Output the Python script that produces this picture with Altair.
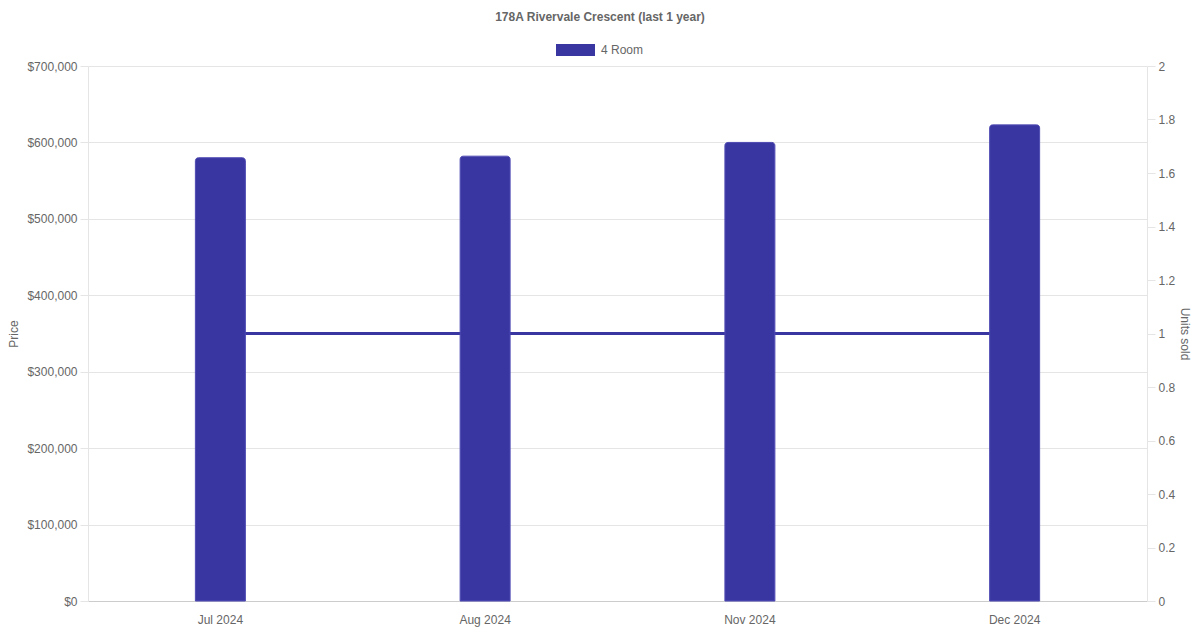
import altair as alt
import pandas as pd

months = ["Jul 2024", "Aug 2024", "Nov 2024", "Dec 2024"]
prices = [580000, 582000, 600000, 623000]
units = [1, 1, 1, 1]
series_name = ["4 Room"]
title_text = ["178A Rivervale Crescent (last 1 year)"]

COLOR = "#3a36a1"
GREY = "#666666"
GRID = "#e5e5e5"
FONT = "Liberation Sans"

df = pd.DataFrame({"month": months, "price": prices, "units": units})

xenc = alt.X(
    "month:N",
    sort=months,
    scale=alt.Scale(paddingInner=0, paddingOuter=0),
    axis=alt.Axis(
        title=None, labelAngle=0, tickSize=0, labelPadding=13,
        domainColor="#cccccc", grid=False, labelColor=GREY, labelFontSize=12,
        labelFont=FONT,
    ),
)

line = alt.Chart(df).mark_line(color=COLOR, strokeWidth=3).encode(
    x=xenc,
    y=alt.Y(
        "units:Q",
        scale=alt.Scale(domain=[0, 2], nice=False),
        axis=alt.Axis(
            orient="right", title="Units sold", values=[0, 0.2, 0.4, 0.6, 0.8, 1, 1.2, 1.4, 1.6, 1.8, 2],
            format="~g", grid=False, tickSize=8, tickColor=GRID, domainColor=GRID,
            labelPadding=3, labelColor=GREY, labelFontSize=12, labelFont=FONT,
            titleColor=GREY, titleFontSize=12, titleFont=FONT, titleFontWeight="normal",
            titlePadding=3,
        ),
    ),
)

bars = alt.Chart(df).mark_bar(
    color=COLOR, size=50, cornerRadiusTopLeft=3, cornerRadiusTopRight=3,
    stroke="#4a46b0", strokeWidth=1,
).encode(
    x=xenc,
    y=alt.Y(
        "price:Q",
        scale=alt.Scale(domain=[0, 700000], nice=False),
        axis=alt.Axis(
            orient="left", title="Price", values=[0, 100000, 200000, 300000, 400000, 500000, 600000, 700000],
            format="$,.0f", grid=True, gridColor=GRID, tickSize=8, tickColor=GRID, domainColor=GRID,
            labelPadding=3, labelColor=GREY, labelFontSize=12, labelFont=FONT,
            titleColor=GREY, titleFontSize=12, titleFont=FONT, titleFontWeight="normal",
            titlePadding=6,
        ),
    ),
)

title = alt.Chart(pd.DataFrame({"t": title_text})).mark_text(
    font=FONT, fontSize=12, fontWeight="bold", color=GREY, align="center", baseline="middle",
).encode(text="t:N", x=alt.value(512), y=alt.value(-49))

legend_rect = alt.Chart(pd.DataFrame({"s": series_name})).mark_rect(color=COLOR).encode(
    x=alt.value(468), x2=alt.value(507), y=alt.value(-22), y2=alt.value(-10)
)
legend_text = alt.Chart(pd.DataFrame({"s": series_name})).mark_text(
    font=FONT, fontSize=12, color=GREY, align="left", baseline="middle",
).encode(text="s:N", x=alt.value(513), y=alt.value(-16))

chart = alt.layer(line, bars, title, legend_rect, legend_text).resolve_scale(
    y="independent"
).properties(
    width=1059, height=535,
    autosize=alt.AutoSizeParams(type="none"),
    padding={"left": 80, "top": 58, "right": 45, "bottom": 28},
    background="white",
).configure_view(stroke=None)

chart.save("out.html", embed_options={"renderer": "svg", "actions": False})
